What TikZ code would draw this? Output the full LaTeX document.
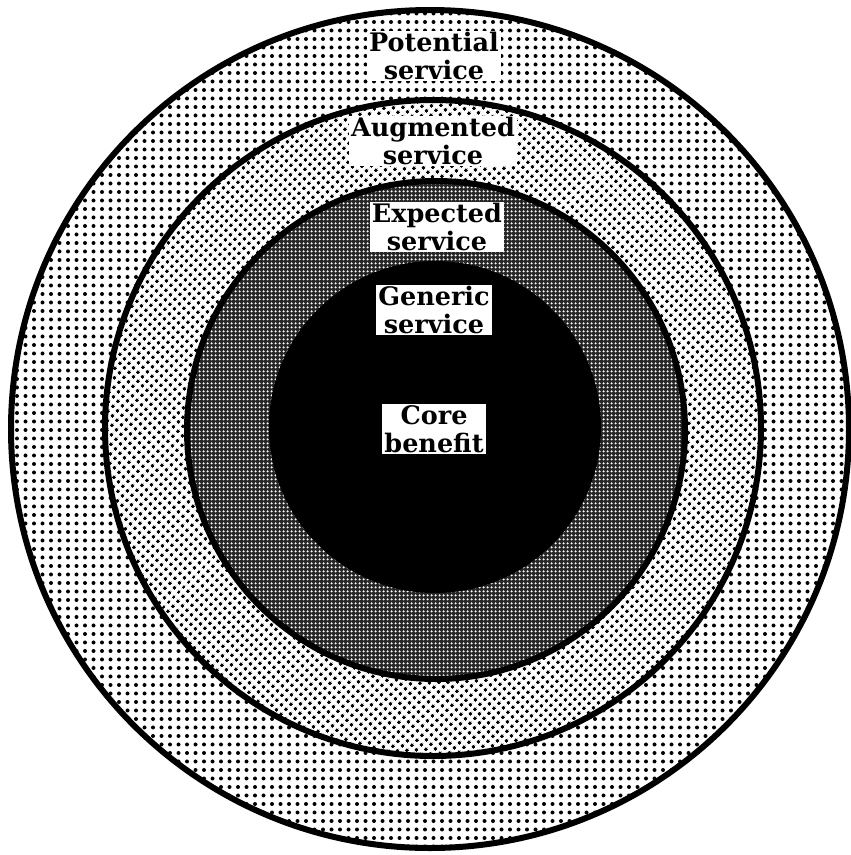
\documentclass[tikz,border=0pt]{standalone}
\usepackage{fontspec}
\setmainfont{DejaVu Serif}
\usetikzlibrary{patterns.meta}
\tikzset{
  ring/.style={line width=6pt, draw=black},
  lbl/.style={fill=white, align=center, inner xsep=2pt, inner ysep=1.5pt,
    font=\fontsize{25.5}{28}\selectfont\bfseries, text=black}
}
\begin{document}
\begin{tikzpicture}[x=1pt,y=-1pt]
\useasboundingbox (0,0) rectangle (851,855);
% outer ring: potential
\path[ring, preaction={fill=white},
  pattern={Dots[distance=8.5pt, radius=2pt]}, pattern color=black]
  (430,429) circle[radius=419];
% augmented
\path[ring, preaction={fill=white},
  pattern={Dots[distance=6.5pt, angle=45, radius=1.9pt]}, pattern color=black]
  (433,428) circle[radius=328];
% expected
\path[ring, preaction={fill=black!85},
  pattern={Dots[distance=4pt, radius=1.45pt]}, pattern color=white]
  (436,430) circle[radius=249];
% generic / core
\fill[black] (435,427) circle[radius=166];
% labels
\node[lbl] (pot) at (434,56) {Potential\\service};
\node[lbl] (aug) at (433,141) {Augmented\\service};
\node[lbl] (exp) at (437,227) {Expected\\service};
\node[lbl] (gen) at (434,310) {Generic\\service};
\node[lbl] (core) at (434,429) {Core\\benefit};
\end{tikzpicture}
\end{document}
